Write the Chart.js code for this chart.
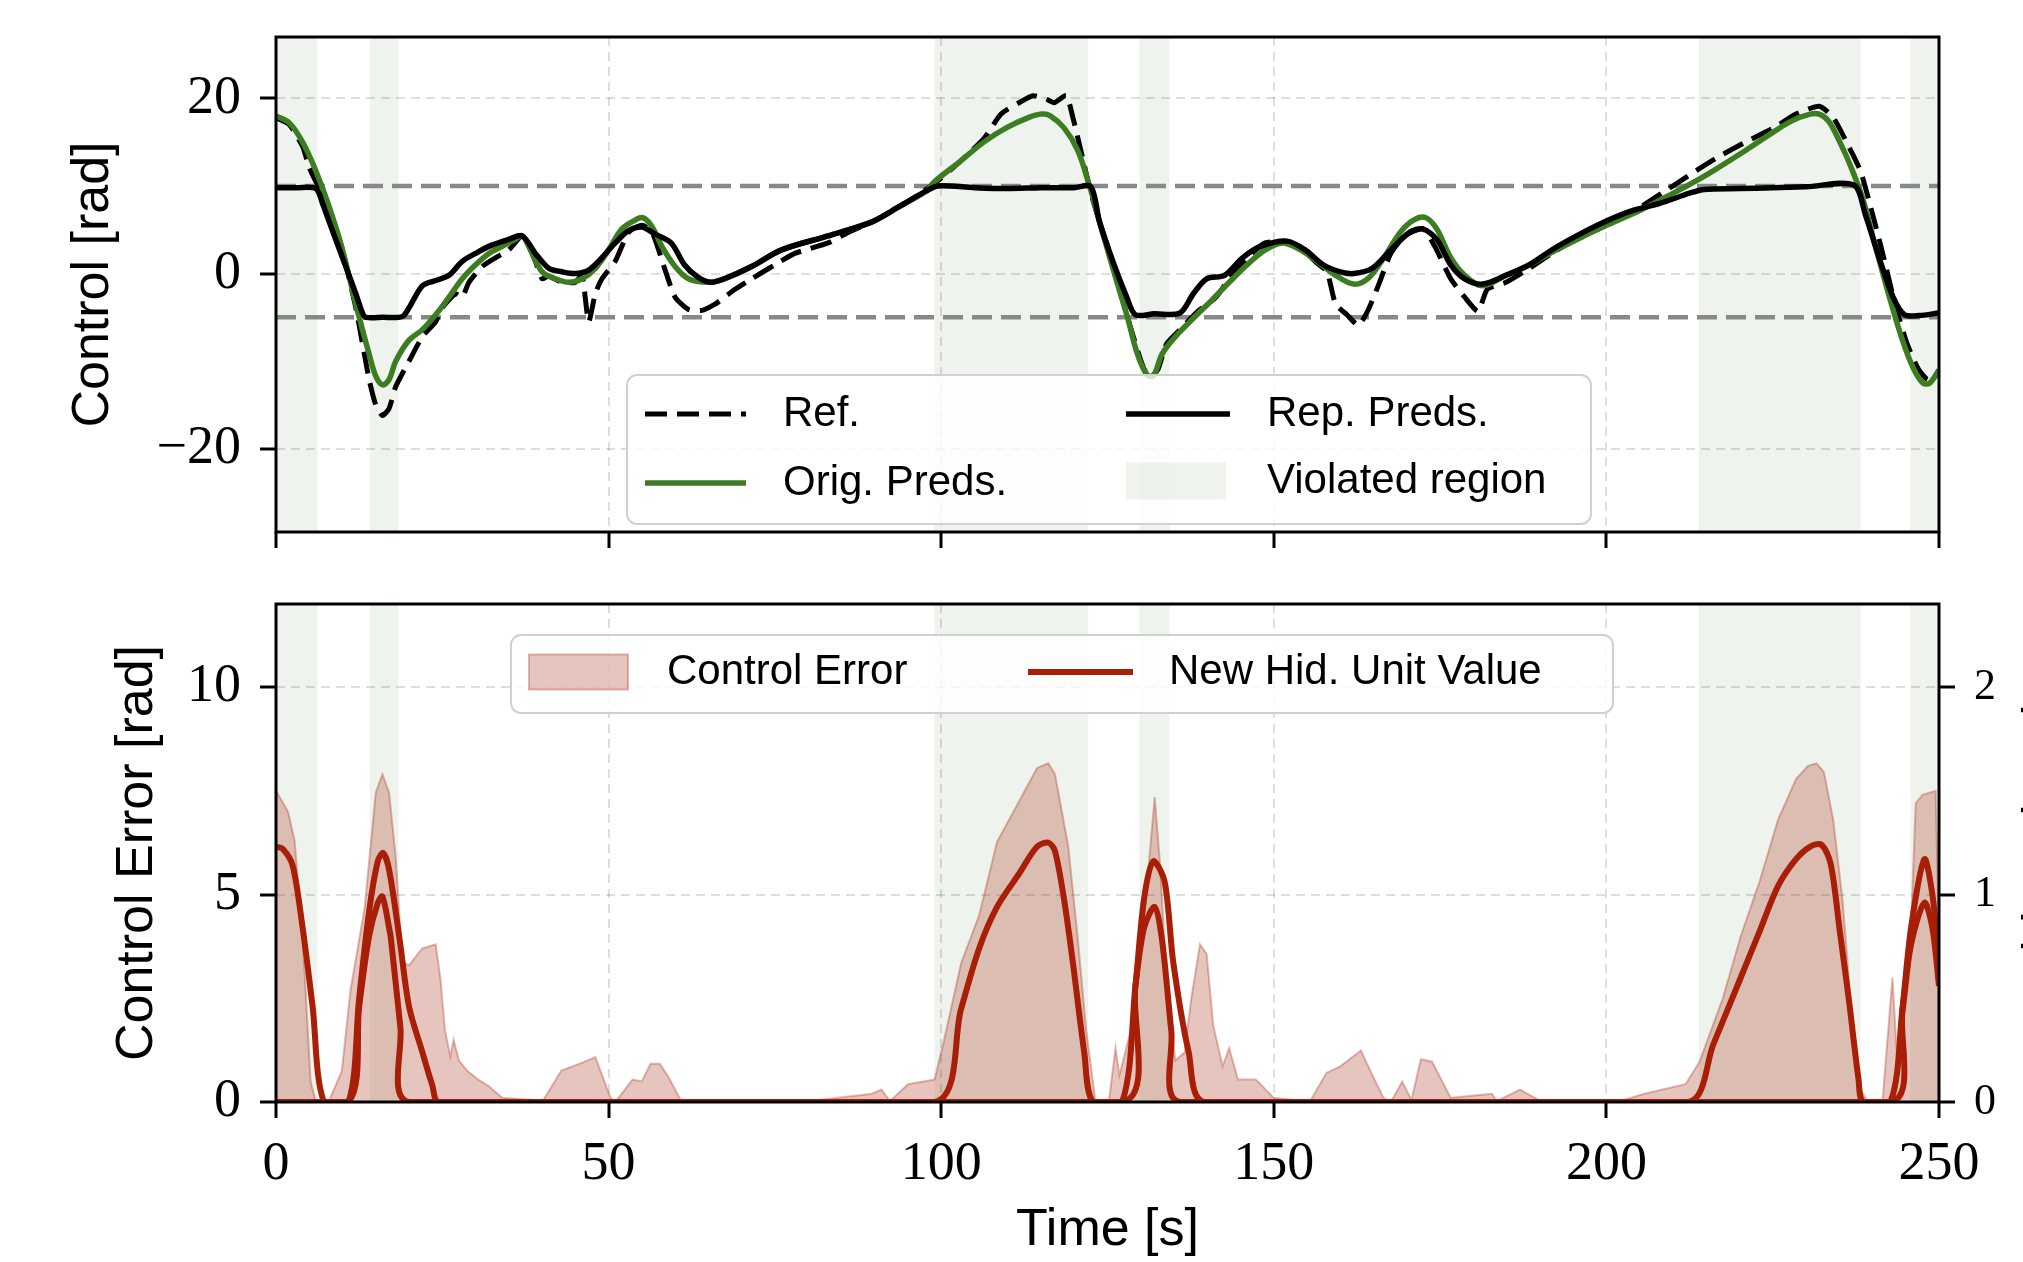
<!DOCTYPE html>
<html>
<head>
<meta charset="utf-8">
<script src="https://cdn.jsdelivr.net/npm/chart.js@4.4.1/dist/chart.umd.min.js"></script>
<style>
  html, body { margin: 0; padding: 0; background: #fff; overflow: hidden; }
  .wrap { position: relative; width: 2023px; height: 1262px; }
  canvas { position: absolute; left: 0; top: 0; }
</style>
</head>
<body>
<div class="wrap">
  <canvas id="controlChart" width="2023" height="1262"></canvas>
  <canvas id="errorChart" width="2023" height="1262"></canvas>
</div>
<script>
// Tick values
const timeTicks = [0, 50, 100, 150, 200, 250];
const controlTicks = [-20, 0, 20];
const errorTicks = [0, 5, 10];
const hiddenTicks = [0, 1, 2];

// Violated regions [start, end] in seconds
const violatedStart = [0, 14.1, 99.0, 129.8, 213.9, 245.7];
const violatedEnd = [6.2, 18.4, 122.1, 134.3, 238.2, 250];

// Control limits (horizontal dashed lines)
const controlLimits = [10, -5];

// Ref. (reference control)
const refTime = [0, 2, 4, 5, 6, 7.5, 9, 10, 11, 12, 13, 14, 15, 16, 17, 18, 20, 22, 24, 25, 27, 28, 29, 31, 33, 35, 37, 38, 39, 40, 41, 43, 45, 46, 47, 48, 49, 51, 53, 55, 56.5, 58.5, 60, 62, 64, 66, 69, 71.5, 75, 78, 83, 86, 89.6, 93.6, 97, 100, 103, 106.4, 109, 111.7, 113.8, 115.8, 117, 118.8, 119.8, 121.1, 122.5, 123.8, 125.2, 126.5, 127.9, 129.2, 130.5, 131.5, 132.6, 133.9, 135.9, 138.6, 141.3, 143.3, 146, 148.7, 151.3, 154, 156.5, 158, 159.3, 161, 162.7, 164.1, 165.9, 167.6, 169.7, 172.4, 174.2, 176.6, 178.7, 180.7, 182.1, 184.9, 188.4, 191.8, 195.3, 200, 204.3, 208.4, 212.6, 216.8, 220.9, 225.1, 228.5, 232, 234.1, 236.1, 238.2, 240, 241.7, 243.4, 245.2, 246.9, 248.3, 250];
const refValue = [17.8, 17.0, 14.5, 12.1, 10.5, 8.4, 5.1, 2.7, -0.6, -3.9, -8.0, -12.1, -15.0, -16.2, -15.4, -12.9, -10.0, -7.2, -5.5, -3.9, -2.3, -2.7, -1.0, 0.8, 1.8, 2.7, 4.3, 3.1, 1.4, -0.6, -0.3, -1.0, -1.0, -0.2, -5.5, -2.3, -0.6, 1.4, 4.7, 5.5, 4.8, 0.4, -2.7, -4.1, -4.2, -3.5, -1.8, -0.6, 1.0, 2.3, 3.5, 4.7, 5.9, 7.6, 9.2, 10.9, 12.9, 15.4, 18.2, 19.5, 20.3, 19.9, 19.5, 20.3, 17.8, 13.7, 9.2, 5.9, 2.7, -1.0, -4.7, -8.0, -10.9, -11.8, -10.9, -8.0, -6.4, -4.3, -2.7, -0.6, 1.8, 3.5, 3.6, 2.9, 1.2, 0.2, -3.5, -4.7, -5.9, -4.3, -1.0, 2.3, 4.3, 5.1, 3.1, -0.6, -2.7, -4.3, -1.8, -1.0, 0.6, 2.3, 3.9, 5.5, 7.2, 9.2, 11.3, 13.3, 15.0, 16.6, 18.2, 19.1, 17.8, 15.0, 11.7, 6.8, 1.8, -3.5, -8.0, -10.9, -12.1, -11.5];

// Orig. Preds.
const origTime = [0, 2, 4, 6, 8, 10, 12, 14, 15, 16, 17, 18, 20, 22, 24, 26, 28, 30, 32, 34, 36, 37, 38, 40, 42, 44, 46, 48, 50, 52, 54, 55, 56, 57, 58, 60, 62, 65, 67.4, 71.5, 76, 83, 89.6, 93.6, 97.7, 99, 103, 106.4, 109.7, 113.1, 115.1, 116.4, 118.5, 120.5, 122.1, 123.8, 125.8, 127.9, 129.5, 130.9, 131.9, 133.2, 135.2, 137.9, 140.6, 143.3, 146, 148.7, 151.3, 154, 156.5, 159.3, 162, 164.1, 166.2, 169, 171, 172.8, 174.5, 176.6, 178.7, 181.4, 184.9, 188.4, 192.5, 196.7, 200, 205, 209.1, 212.6, 216, 220.2, 224.4, 227.8, 230.6, 232, 233.4, 235.1, 236.8, 238.6, 240.3, 242.4, 244.5, 246.2, 247.6, 248.6, 250];
const origValue = [18.0, 17.2, 15.0, 11.7, 7.6, 2.7, -3.5, -9.2, -11.7, -12.7, -12.1, -10.0, -7.6, -6.4, -4.7, -2.7, -0.6, 1.0, 2.3, 3.1, 3.9, 4.3, 3.1, 0.2, -0.6, -1.0, -0.6, 0.6, 2.7, 5.1, 6.1, 6.4, 5.9, 4.7, 3.1, 0.8, -0.6, -1.0, -0.6, 0.8, 2.7, 4.3, 5.9, 7.6, 9.4, 10.5, 12.9, 15.0, 16.6, 17.8, 18.2, 18.0, 16.6, 14.1, 10.5, 5.9, 0.6, -4.7, -9.2, -11.5, -11.7, -9.2, -7.2, -5.1, -3.1, -1.0, 1.0, 2.7, 3.5, 2.7, 1.4, -0.2, -1.2, -0.6, 1.4, 4.7, 6.1, 6.4, 5.1, 1.8, -0.2, -1.4, -0.2, 1.0, 2.7, 4.3, 5.5, 7.2, 8.8, 10.2, 11.7, 13.7, 15.8, 17.4, 18.2, 18.2, 17.4, 15.0, 12.1, 8.4, 3.5, -2.3, -7.6, -10.9, -12.5, -12.5, -11.0];

// Rep. Preds.
const repTime = [0, 3, 6, 7, 8, 10, 12, 13, 13.5, 16, 19, 20, 22, 24, 26, 28, 30, 32, 35, 37, 39, 41, 43, 45, 47, 49, 51, 53, 55, 57, 59.4, 61.4, 63.4, 65.4, 67.4, 71.5, 76, 83, 89.6, 93.6, 97.7, 99.5, 105, 110, 115, 120, 122.5, 123.8, 125.8, 127.9, 129.2, 132, 135.9, 137.9, 139.9, 142.6, 145.3, 148, 152, 154.7, 157.4, 160, 162, 164.8, 167.6, 170.4, 172.4, 174.5, 176.6, 178.7, 181.4, 184.9, 188.4, 192, 196, 200, 204, 208, 212.6, 214.7, 220, 225, 230, 237.2, 238.9, 241, 243.1, 244.8, 247, 250];
const repValue = [9.8, 9.8, 9.7, 8.0, 5.9, 1.8, -2.3, -4.5, -5.0, -5.0, -4.9, -3.9, -1.4, -0.8, -0.2, 1.4, 2.3, 3.1, 3.9, 4.3, 2.3, 0.6, 0.2, 0.0, 0.4, 1.8, 3.5, 4.9, 5.3, 4.5, 3.5, 1.0, -0.4, -1.0, -0.6, 0.8, 2.7, 4.3, 5.9, 7.6, 9.4, 10.0, 9.8, 9.7, 9.8, 9.8, 9.9, 5.9, 1.4, -2.7, -4.7, -4.6, -4.5, -2.3, -0.6, -0.2, 1.8, 3.1, 3.7, 2.7, 1.0, 0.2, 0.0, 0.6, 2.7, 4.7, 5.1, 3.9, 1.0, -0.6, -1.2, -0.2, 1.0, 2.8, 4.5, 6.0, 7.2, 8.0, 9.2, 9.6, 9.7, 9.8, 9.9, 10.1, 6.8, 1.8, -2.7, -4.7, -4.8, -4.5];

// Control Error [rad]
const errTime = [0, 1.8, 2.8, 4, 5.2, 6, 7.9, 9.9, 11.2, 13.3, 15, 16, 17, 18, 19, 20, 22, 24, 24.7, 25.4, 26.2, 26.7, 27.5, 28.7, 30.4, 32, 34, 38.8, 40, 42.9, 45.6, 48, 50.3, 51, 53.6, 55, 56.3, 57.7, 59, 61, 71.5, 80, 89.6, 91, 92.3, 95, 99, 100.3, 103, 105.7, 108.4, 111.7, 114.4, 116.1, 117.1, 119.1, 120.5, 121.8, 123.2, 125.2, 126.2, 126.8, 128.5, 129.9, 131.2, 132.1, 132.9, 133.9, 135.2, 136.6, 137.6, 138.9, 139.9, 140.9, 142.3, 143.3, 144.6, 147.3, 150, 155.4, 157.9, 160, 163.1, 164.8, 166.5, 167.6, 169.3, 170.7, 172.1, 173.8, 176.6, 182.8, 183.5, 187, 189.8, 202.2, 205.7, 211.9, 214, 217.5, 220.2, 223, 225.8, 228.5, 230.3, 231.6, 232.7, 234.1, 235.5, 236.8, 238.2, 239.3, 241.5, 243, 243.8, 245.5, 246.5, 247.5, 249.5, 250];
const errValue = [7.5, 7.0, 6.3, 4.0, 0.5, 0, 0, 0.75, 2.7, 4.65, 7.46, 7.9, 7.46, 5.9, 3.35, 3.3, 3.7, 3.8, 3.0, 1.73, 1.1, 1.5, 1.0, 0.76, 0.54, 0.38, 0.1, 0.05, 0, 0.76, 0.92, 1.08, 0.1, 0, 0.54, 0.5, 0.92, 0.92, 0.6, 0, 0.05, 0.02, 0.2, 0.3, 0.02, 0.43, 0.54, 1.4, 3.35, 4.5, 6.27, 7.24, 8.05, 8.16, 7.9, 6.16, 4.0, 1.73, 0, 0, 1.3, 0.65, 1.73, 3.35, 5.73, 7.35, 5.73, 2.8, 1.0, 1.2, 2.5, 3.8, 3.57, 1.84, 0.86, 1.3, 0.54, 0.54, 0.1, 0, 0.7, 0.86, 1.24, 0.65, 0.1, 0, 0.49, 0.05, 1.03, 0.97, 0.1, 0.2, 0.02, 0.3, 0.05, 0.03, 0.2, 0.43, 0.97, 2.5, 4.0, 5.3, 6.8, 7.78, 8.1, 8.16, 7.95, 6.8, 4.87, 2.27, 0.3, 0, 0, 3.0, 0.8, 3.0, 7.2, 7.4, 7.5, 3.8];

// New hidden unit values (right axis)
const hidATime = [0, 1, 2.5, 4, 5.5, 7.2, 10.9, 12.5, 14, 15.3, 16.1, 17, 18.6, 20, 22, 23.5, 24.5, 99, 103, 105.7, 108.4, 111.7, 114.4, 116.1, 117.1, 118.5, 119.8, 121.5, 122.8, 127.2, 129.2, 130.5, 131.9, 133.6, 134.9, 137.2, 139.6, 212.3, 216.1, 220.2, 223, 225.8, 228.5, 230.6, 232.3, 233.7, 235.1, 236.5, 237.9, 238.6, 242.7, 244.5, 245.8, 247.8, 249, 250];
const hidAValue = [1.23, 1.22, 1.14, 0.84, 0.46, 0, 0, 0.5, 0.92, 1.16, 1.2, 1.12, 0.78, 0.46, 0.24, 0.08, 0, 0, 0.45, 0.74, 0.94, 1.1, 1.23, 1.25, 1.21, 0.97, 0.67, 0.24, 0, 0, 0.56, 0.98, 1.16, 1.06, 0.67, 0.24, 0, 0, 0.28, 0.6, 0.82, 1.04, 1.17, 1.23, 1.24, 1.15, 0.82, 0.48, 0.11, 0, 0, 0.45, 0.84, 1.17, 1.0, 0.7];
const hidBTime = [0, 10.9, 12.5, 14, 15.3, 16, 17, 17.3, 18.7, 20, 127.2, 129.2, 130.5, 132.1, 133.2, 134.6, 135.9, 242.7, 244.5, 245.8, 247.8, 249, 250];
const hidBValue = [0, 0, 0.46, 0.8, 0.96, 0.99, 0.84, 0.78, 0.36, 0, 0, 0.56, 0.84, 0.94, 0.78, 0.34, 0, 0, 0.44, 0.76, 0.96, 0.84, 0.56];

// Legend labels and side title
const topLegendLabels = ['Ref.', 'Rep. Preds.', 'Orig. Preds.', 'Violated region'];
const bottomLegendLabels = ['Control Error', 'New Hid. Unit Value'];
const hiddenAxisTitle = 'New Hid. Unit Value';

// Styles
const GREEN = '#3d7d22';
const RED = '#a81e06';
const VIOLATED_FILL = 'rgba(70, 130, 60, 0.09)';
const ERR_FILL = 'rgba(168, 40, 20, 0.27)';
const ERR_EDGE = 'rgba(168, 40, 20, 0.32)';
const GRID_COLOR = 'rgba(0, 0, 0, 0.13)';
const SERIF = 'Liberation Serif';
const SANS = 'Liberation Sans';
const TICK_LEN = 16;

function toPoints(ts, vs) {
    return ts.map((t, i) => ({ x: t, y: vs[i] }));
}

function fmtTick(v) {
    return v < 0 ? '\u2212' + Math.abs(v) : String(v);
}

function fixedTicks(values) {
    return scale => { scale.ticks = values.map(v => ({ value: v })); };
}

// force the box size and drop the label overhang padding
function fixSize(prop, size) {
    return scale => {
        scale[prop] = size;
        scale.paddingTop = 0;
        scale.paddingBottom = 0;
        scale.paddingLeft = 0;
        scale.paddingRight = 0;
    };
}

const gridOpts = {
    color: GRID_COLOR,
    lineWidth: 2,
    tickColor: '#000',
    tickWidth: 3,
    tickLength: TICK_LEN,
    tickBorderDash: []
};
const borderOpts = { display: false, dash: [9, 6] };

// Shaded violated regions, drawn under the grid
const spanPlugin = {
    id: 'violatedSpans',
    beforeDraw(chart) {
        const { ctx, chartArea } = chart;
        const x = chart.scales.x;
        ctx.save();
        ctx.fillStyle = VIOLATED_FILL;
        violatedStart.forEach((s, i) => {
            const x0 = x.getPixelForValue(s);
            const x1 = x.getPixelForValue(violatedEnd[i]);
            ctx.fillRect(x0, chartArea.top, x1 - x0, chartArea.bottom - chartArea.top);
        });
        ctx.restore();
    }
};

function roundRectPath(ctx, x, y, w, h, r) {
    ctx.beginPath();
    ctx.moveTo(x + r, y);
    ctx.arcTo(x + w, y, x + w, y + h, r);
    ctx.arcTo(x + w, y + h, x, y + h, r);
    ctx.arcTo(x, y + h, x, y, r);
    ctx.arcTo(x, y, x + w, y, r);
    ctx.closePath();
}

// Frame, legend box and extra text on top of everything
const overlayPlugin = {
    id: 'overlay',
    afterDraw(chart, args, opts) {
        const { ctx, chartArea } = chart;
        ctx.save();
        ctx.strokeStyle = '#000';
        ctx.lineWidth = 3;
        ctx.strokeRect(chartArea.left, chartArea.top, chartArea.right - chartArea.left, chartArea.bottom - chartArea.top);

        const lg = opts.legend;
        if (lg) {
            const [bx, by, bw, bh] = lg.box;
            roundRectPath(ctx, bx, by, bw, bh, 10);
            ctx.fillStyle = 'rgba(255, 255, 255, 0.8)';
            ctx.fill();
            ctx.strokeStyle = '#d0d0d0';
            ctx.lineWidth = 2;
            ctx.stroke();

            ctx.font = '42px "' + SANS + '"';
            ctx.textBaseline = 'middle';
            ctx.textAlign = 'left';
            lg.items.forEach(it => {
                if (it.kind === 'line') {
                    ctx.strokeStyle = it.color;
                    ctx.lineWidth = it.width;
                    ctx.setLineDash(it.dash || []);
                    ctx.beginPath();
                    ctx.moveTo(it.x, it.y);
                    ctx.lineTo(it.x + it.len, it.y);
                    ctx.stroke();
                    ctx.setLineDash([]);
                } else {
                    ctx.fillStyle = it.color;
                    ctx.fillRect(it.x, it.y - it.h / 2, it.len, it.h);
                    if (it.edge) {
                        ctx.strokeStyle = it.edge;
                        ctx.lineWidth = 2;
                        ctx.strokeRect(it.x, it.y - it.h / 2, it.len, it.h);
                    }
                }
                ctx.fillStyle = '#000';
                ctx.fillText(it.label, it.tx, it.y);
            });
        }

        if (opts.sideTitle) {
            ctx.font = '52px "' + SANS + '"';
            ctx.fillStyle = '#000';
            ctx.textAlign = 'center';
            ctx.textBaseline = 'alphabetic';
            ctx.translate(chartArea.right + opts.sideTitle.offset, (chartArea.top + chartArea.bottom) / 2 + 24);
            ctx.rotate(-Math.PI / 2);
            ctx.fillText(opts.sideTitle.text, 0, 0);
        }
        ctx.restore();
    }
};

// ---- Top chart: control signals ----
new Chart(document.getElementById('controlChart'), {
    type: 'line',
    data: {
        datasets: [
            {
                label: 'Rep. Preds.',
                data: toPoints(repTime, repValue),
                borderColor: '#000',
                borderWidth: 5.5,
                tension: 0.3
            },
            {
                label: 'Orig. Preds.',
                data: toPoints(origTime, origValue),
                borderColor: GREEN,
                borderWidth: 5.5,
                tension: 0.35
            },
            {
                label: 'Ref.',
                data: toPoints(refTime, refValue),
                borderColor: '#000',
                borderWidth: 5,
                borderDash: [22, 10],
                tension: 0.2
            },
            ...controlLimits.map(v => ({
                label: 'limit',
                data: [{ x: 0, y: v }, { x: 250, y: v }],
                borderColor: '#888',
                borderWidth: 4.5,
                borderDash: [20, 9]
            }))
        ]
    },
    options: {
        responsive: false,
        animation: false,
        events: [],
        elements: { point: { radius: 0 } },
        layout: { padding: { top: 37, right: 84, bottom: 0, left: 0 } },
        plugins: {
            legend: { display: false },
            tooltip: { enabled: false },
            overlay: {
                legend: {
                    box: [627, 375, 964, 149],
                    items: [
                        { kind: 'line', color: '#000', width: 5, dash: [22, 10], x: 645, len: 101, y: 414, label: topLegendLabels[0], tx: 783 },
                        { kind: 'line', color: '#000', width: 5.5, x: 1126, len: 104, y: 414, label: topLegendLabels[1], tx: 1267 },
                        { kind: 'line', color: GREEN, width: 5.5, x: 645, len: 101, y: 483, label: topLegendLabels[2], tx: 783 },
                        { kind: 'patch', color: VIOLATED_FILL, x: 1126, len: 100, h: 37, y: 481, label: topLegendLabels[3], tx: 1267 }
                    ]
                }
            }
        },
        scales: {
            x: {
                type: 'linear',
                min: 0,
                max: 250,
                afterBuildTicks: fixedTicks(timeTicks),
                afterFit: fixSize('height', 1262 - 532),
                ticks: { display: false },
                grid: gridOpts,
                border: borderOpts
            },
            y: {
                min: -29.5,
                max: 27,
                afterBuildTicks: fixedTicks(controlTicks),
                afterFit: fixSize('width', 276),
                ticks: {
                    color: '#000',
                    padding: 19,
                    font: { family: SERIF, size: 54 },
                    callback: v => fmtTick(v)
                },
                title: {
                    display: true,
                    text: 'Control [rad]',
                    color: '#000',
                    font: { family: SANS, size: 52, lineHeight: 1.2 },
                    padding: { top: 62, bottom: 0 }
                },
                grid: gridOpts,
                border: borderOpts
            }
        }
    },
    plugins: [spanPlugin, overlayPlugin]
});

// ---- Bottom chart: control error and hidden unit ----
new Chart(document.getElementById('errorChart'), {
    type: 'line',
    data: {
        datasets: [
            {
                label: 'New Hid. Unit Value',
                data: toPoints(hidATime, hidAValue),
                yAxisID: 'y2',
                borderColor: RED,
                borderWidth: 6,
                tension: 0.3
            },
            {
                label: 'New Hid. Unit Value (2)',
                data: toPoints(hidBTime, hidBValue),
                yAxisID: 'y2',
                borderColor: RED,
                borderWidth: 6,
                tension: 0.3
            },
            {
                label: 'Control Error',
                data: toPoints(errTime, errValue),
                yAxisID: 'y',
                borderColor: ERR_EDGE,
                backgroundColor: ERR_FILL,
                borderWidth: 2,
                fill: 'origin',
                tension: 0
            }
        ]
    },
    options: {
        responsive: false,
        animation: false,
        events: [],
        elements: { point: { radius: 0 } },
        layout: { padding: { top: 604, right: 0, bottom: 0, left: 0 } },
        plugins: {
            legend: { display: false },
            tooltip: { enabled: false },
            filler: { propagate: false },
            overlay: {
                legend: {
                    box: [511, 635, 1102, 78],
                    items: [
                        { kind: 'patch', color: ERR_FILL, edge: ERR_EDGE, x: 529, len: 99, h: 35, y: 672, label: bottomLegendLabels[0], tx: 667 },
                        { kind: 'line', color: RED, width: 6, x: 1028, len: 105, y: 672, label: bottomLegendLabels[1], tx: 1169 }
                    ]
                },
                sideTitle: { text: hiddenAxisTitle, offset: 120 }
            }
        },
        scales: {
            x: {
                type: 'linear',
                min: 0,
                max: 250,
                afterBuildTicks: fixedTicks(timeTicks),
                afterFit: fixSize('height', 1262 - 1102),
                ticks: {
                    color: '#000',
                    padding: 14,
                    maxRotation: 0,
                    font: { family: SERIF, size: 54 }
                },
                title: {
                    display: true,
                    text: 'Time [s]',
                    color: '#000',
                    font: { family: SANS, size: 52, lineHeight: 1.2 },
                    padding: { top: 0, bottom: 0 }
                },
                grid: gridOpts,
                border: borderOpts
            },
            y: {
                min: 0,
                max: 12,
                afterBuildTicks: fixedTicks(errorTicks),
                afterFit: fixSize('width', 276),
                ticks: {
                    color: '#000',
                    padding: 19,
                    font: { family: SERIF, size: 54 }
                },
                title: {
                    display: true,
                    text: 'Control Error [rad]',
                    color: '#000',
                    font: { family: SANS, size: 52, lineHeight: 1.2 },
                    padding: { top: 106, bottom: 0 }
                },
                grid: gridOpts,
                border: borderOpts
            },
            y2: {
                position: 'right',
                min: 0,
                max: 2.4,
                afterBuildTicks: fixedTicks(hiddenTicks),
                afterFit: fixSize('width', 2023 - 1939),
                ticks: {
                    color: '#000',
                    padding: 19,
                    font: { family: SERIF, size: 44 }
                },
                grid: Object.assign({}, gridOpts, { drawOnChartArea: false }),
                border: borderOpts
            }
        }
    },
    plugins: [spanPlugin, overlayPlugin]
});
</script>
</body>
</html>
